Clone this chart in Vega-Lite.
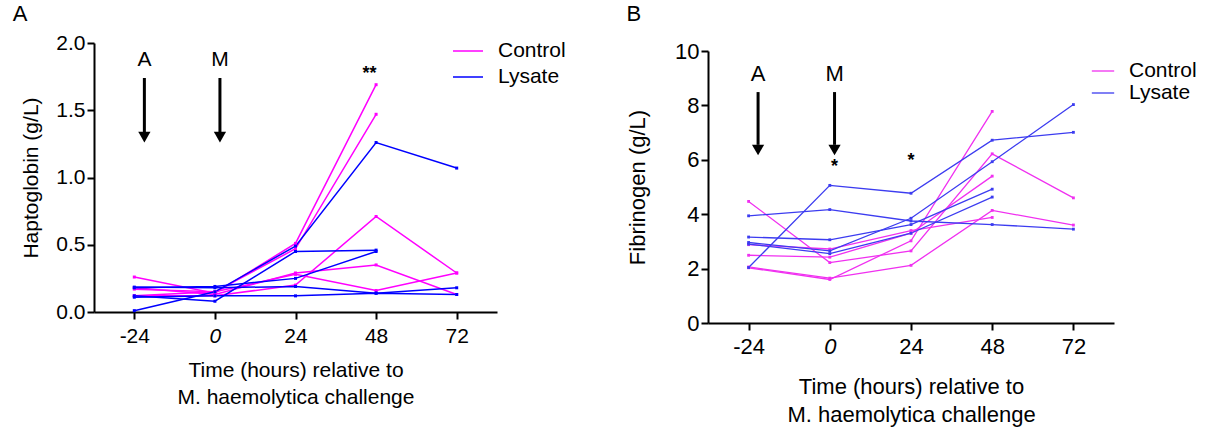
{
  "$schema": "https://vega.github.io/schema/vega-lite/v6.json",
  "padding": {"left": 12, "top": 3, "right": 5, "bottom": 5},
  "background": "white",
  "spacing": 60,
  "resolve": {"scale": {"color": "independent"}},
  "config": {
    "font": "Liberation Sans",
    "view": {"stroke": null},
    "axis": {
      "grid": false, "domainColor": "black", "domainWidth": 2, "tickColor": "black", "tickWidth": 2, "tickSize": 7,
      "labelColor": "black", "titleColor": "black", "labelFontSize": 21, "titleFontSize": 21, "titleFontWeight": "normal",
      "labelFont": "Liberation Sans", "titleFont": "Liberation Sans"
    },
    "legend": {"labelFont": "Liberation Sans", "labelFontSize": 21, "labelColor": "black"},
    "title": {"font": "Liberation Sans", "fontSize": 22, "fontWeight": "normal", "color": "black", "anchor": "start"}
  },
  "datasets": {
    "hapto": [
      {"subject": "C1", "group": "Control", "time": -24, "value": 0.26},
      {"subject": "C1", "group": "Control", "time": 0, "value": 0.14},
      {"subject": "C1", "group": "Control", "time": 24, "value": 0.51},
      {"subject": "C1", "group": "Control", "time": 48, "value": 1.69},
      {"subject": "C2", "group": "Control", "time": -24, "value": 0.17},
      {"subject": "C2", "group": "Control", "time": 0, "value": 0.15},
      {"subject": "C2", "group": "Control", "time": 24, "value": 0.47},
      {"subject": "C2", "group": "Control", "time": 48, "value": 1.47},
      {"subject": "C3", "group": "Control", "time": -24, "value": 0.12},
      {"subject": "C3", "group": "Control", "time": 0, "value": 0.12},
      {"subject": "C3", "group": "Control", "time": 24, "value": 0.2},
      {"subject": "C3", "group": "Control", "time": 48, "value": 0.71},
      {"subject": "C3", "group": "Control", "time": 72, "value": 0.29},
      {"subject": "C4", "group": "Control", "time": -24, "value": 0.18},
      {"subject": "C4", "group": "Control", "time": 0, "value": 0.13},
      {"subject": "C4", "group": "Control", "time": 24, "value": 0.29},
      {"subject": "C4", "group": "Control", "time": 48, "value": 0.35},
      {"subject": "C4", "group": "Control", "time": 72, "value": 0.13},
      {"subject": "C5", "group": "Control", "time": -24, "value": 0.12},
      {"subject": "C5", "group": "Control", "time": 0, "value": 0.15},
      {"subject": "C5", "group": "Control", "time": 24, "value": 0.28},
      {"subject": "C5", "group": "Control", "time": 48, "value": 0.16},
      {"subject": "C5", "group": "Control", "time": 72, "value": 0.29},
      {"subject": "L1", "group": "Lysate", "time": -24, "value": 0.01},
      {"subject": "L1", "group": "Lysate", "time": 0, "value": 0.15},
      {"subject": "L1", "group": "Lysate", "time": 24, "value": 0.49},
      {"subject": "L1", "group": "Lysate", "time": 48, "value": 1.26},
      {"subject": "L1", "group": "Lysate", "time": 72, "value": 1.07},
      {"subject": "L2", "group": "Lysate", "time": -24, "value": 0.12},
      {"subject": "L2", "group": "Lysate", "time": 0, "value": 0.08},
      {"subject": "L2", "group": "Lysate", "time": 24, "value": 0.45},
      {"subject": "L2", "group": "Lysate", "time": 48, "value": 0.46},
      {"subject": "L3", "group": "Lysate", "time": -24, "value": 0.18},
      {"subject": "L3", "group": "Lysate", "time": 0, "value": 0.19},
      {"subject": "L3", "group": "Lysate", "time": 24, "value": 0.25},
      {"subject": "L3", "group": "Lysate", "time": 48, "value": 0.45},
      {"subject": "L4", "group": "Lysate", "time": -24, "value": 0.185},
      {"subject": "L4", "group": "Lysate", "time": 0, "value": 0.18},
      {"subject": "L4", "group": "Lysate", "time": 24, "value": 0.19},
      {"subject": "L4", "group": "Lysate", "time": 48, "value": 0.14},
      {"subject": "L4", "group": "Lysate", "time": 72, "value": 0.18},
      {"subject": "L5", "group": "Lysate", "time": -24, "value": 0.11},
      {"subject": "L5", "group": "Lysate", "time": 0, "value": 0.12},
      {"subject": "L5", "group": "Lysate", "time": 24, "value": 0.12},
      {"subject": "L5", "group": "Lysate", "time": 48, "value": 0.14},
      {"subject": "L5", "group": "Lysate", "time": 72, "value": 0.13}
    ],
    "fibrin": [
      {"subject": "C1", "group": "Control", "time": -24, "value": 4.47},
      {"subject": "C1", "group": "Control", "time": 0, "value": 2.22},
      {"subject": "C1", "group": "Control", "time": 24, "value": 2.65},
      {"subject": "C1", "group": "Control", "time": 48, "value": 6.22},
      {"subject": "C1", "group": "Control", "time": 72, "value": 4.6},
      {"subject": "C2", "group": "Control", "time": -24, "value": 2.88},
      {"subject": "C2", "group": "Control", "time": 0, "value": 2.72},
      {"subject": "C2", "group": "Control", "time": 24, "value": 3.4},
      {"subject": "C2", "group": "Control", "time": 48, "value": 3.88},
      {"subject": "C3", "group": "Control", "time": -24, "value": 2.49},
      {"subject": "C3", "group": "Control", "time": 0, "value": 2.42},
      {"subject": "C3", "group": "Control", "time": 24, "value": 3.3},
      {"subject": "C3", "group": "Control", "time": 48, "value": 5.4},
      {"subject": "C4", "group": "Control", "time": -24, "value": 2.06},
      {"subject": "C4", "group": "Control", "time": 0, "value": 1.65},
      {"subject": "C4", "group": "Control", "time": 24, "value": 2.12},
      {"subject": "C4", "group": "Control", "time": 48, "value": 4.14},
      {"subject": "C4", "group": "Control", "time": 72, "value": 3.6},
      {"subject": "C5", "group": "Control", "time": -24, "value": 2.03},
      {"subject": "C5", "group": "Control", "time": 0, "value": 1.6},
      {"subject": "C5", "group": "Control", "time": 24, "value": 3.02},
      {"subject": "C5", "group": "Control", "time": 48, "value": 7.78},
      {"subject": "L1", "group": "Lysate", "time": -24, "value": 2.04},
      {"subject": "L1", "group": "Lysate", "time": 0, "value": 5.06},
      {"subject": "L1", "group": "Lysate", "time": 24, "value": 4.77},
      {"subject": "L1", "group": "Lysate", "time": 48, "value": 6.72},
      {"subject": "L1", "group": "Lysate", "time": 72, "value": 7.01},
      {"subject": "L2", "group": "Lysate", "time": -24, "value": 3.94},
      {"subject": "L2", "group": "Lysate", "time": 0, "value": 4.17},
      {"subject": "L2", "group": "Lysate", "time": 24, "value": 3.75},
      {"subject": "L2", "group": "Lysate", "time": 48, "value": 3.62},
      {"subject": "L2", "group": "Lysate", "time": 72, "value": 3.45},
      {"subject": "L3", "group": "Lysate", "time": -24, "value": 3.16},
      {"subject": "L3", "group": "Lysate", "time": 0, "value": 3.06},
      {"subject": "L3", "group": "Lysate", "time": 24, "value": 3.62},
      {"subject": "L3", "group": "Lysate", "time": 48, "value": 4.92},
      {"subject": "L4", "group": "Lysate", "time": -24, "value": 2.96},
      {"subject": "L4", "group": "Lysate", "time": 0, "value": 2.65},
      {"subject": "L4", "group": "Lysate", "time": 24, "value": 3.85},
      {"subject": "L4", "group": "Lysate", "time": 48, "value": 5.93},
      {"subject": "L4", "group": "Lysate", "time": 72, "value": 8.03},
      {"subject": "L5", "group": "Lysate", "time": -24, "value": 2.9},
      {"subject": "L5", "group": "Lysate", "time": 0, "value": 2.55},
      {"subject": "L5", "group": "Lysate", "time": 24, "value": 3.3},
      {"subject": "L5", "group": "Lysate", "time": 48, "value": 4.63}
    ],
    "arrowsA": [
      {"time": -21, "value": 1.74, "value2": 1.33, "head": 1.3, "label": "A", "labelY": 1.87},
      {"time": 1.5, "value": 1.74, "value2": 1.33, "head": 1.3, "label": "M", "labelY": 1.87}
    ],
    "starsA": [
      {"time": 46, "value": 1.77, "label": "**"}
    ],
    "arrowsB": [
      {"time": -21.2, "value": 8.49, "value2": 6.55, "head": 6.36, "label": "A", "labelY": 9.17},
      {"time": 1.4, "value": 8.49, "value2": 6.55, "head": 6.36, "label": "M", "labelY": 9.17}
    ],
    "starsB": [
      {"time": 1.4, "value": 5.75, "label": "*"},
      {"time": 24, "value": 5.95, "label": "*"}
    ],
    "spacer": [{"s": 0}]
  },
  "hconcat": [
    {
      "width": 403,
      "height": 269,
      "title": {"text": "A", "offset": 6, "dx": -8},
      "layer": [
        {
          "data": {"name": "hapto"},
          "mark": {"type": "line", "strokeWidth": 1.5},
          "encoding": {
            "x": {"field": "time", "type": "quantitative", "title": ["Time (hours) relative to", "M. haemolytica challenge"],
              "scale": {"domain": [-36, 84], "nice": false, "zero": false},
              "axis": {"values": [-24, 0, 24, 48, 72], "labelPadding": 6, "titlePadding": 13, "titleLineHeight": 27,
                "labelExpr": "datum.value + ''",
                "labelFontStyle": {"condition": {"test": "datum.value === 0", "value": "italic"}, "value": "normal"}}},
            "y": {"field": "value", "type": "quantitative", "title": "Haptoglobin (g/L)",
              "scale": {"domain": [0, 2], "nice": false},
              "axis": {"values": [0, 0.5, 1, 1.5, 2], "format": ".1f", "labelPadding": 2, "titlePadding": 14}},
            "color": {"field": "group", "type": "nominal",
              "scale": {"domain": ["Control", "Lysate"], "range": ["#FF00FF", "#0000FF"]},
              "legend": {"title": null, "orient": "none", "legendX": 358, "legendY": -8, "symbolType": "stroke",
                "symbolSize": 900, "symbolStrokeWidth": 1.5, "labelOffset": 14, "rowPadding": -5}},
            "detail": {"field": "subject"}
          }
        },
        {
          "data": {"name": "hapto"},
          "mark": {"type": "point", "shape": "square", "filled": true, "size": 9, "opacity": 1},
          "encoding": {
            "x": {"field": "time", "type": "quantitative", "title": ["Time (hours) relative to", "M. haemolytica challenge"]},
            "y": {"field": "value", "type": "quantitative", "title": "Haptoglobin (g/L)"},
            "color": {"field": "group", "type": "nominal", "legend": null}
          }
        },
        {
          "data": {"name": "arrowsA"},
          "mark": {"type": "rule", "strokeWidth": 3, "color": "black"},
          "encoding": {
            "x": {"field": "time", "type": "quantitative", "title": ["Time (hours) relative to", "M. haemolytica challenge"]},
            "y": {"field": "value", "type": "quantitative", "title": "Haptoglobin (g/L)"},
            "y2": {"field": "value2"}
          }
        },
        {
          "data": {"name": "arrowsA"},
          "mark": {"type": "point", "shape": "triangle-down", "filled": true, "size": 150, "color": "black", "opacity": 1},
          "encoding": {
            "x": {"field": "time", "type": "quantitative", "title": ["Time (hours) relative to", "M. haemolytica challenge"]},
            "y": {"field": "head", "type": "quantitative", "title": "Haptoglobin (g/L)"}
          }
        },
        {
          "data": {"name": "arrowsA"},
          "mark": {"type": "text", "fontSize": 21, "baseline": "middle", "align": "center", "color": "black"},
          "encoding": {
            "x": {"field": "time", "type": "quantitative", "title": ["Time (hours) relative to", "M. haemolytica challenge"]},
            "y": {"field": "labelY", "type": "quantitative", "title": "Haptoglobin (g/L)"},
            "text": {"field": "label"}
          }
        },
        {
          "data": {"name": "starsA"},
          "mark": {"type": "text", "fontSize": 18, "baseline": "middle", "align": "center", "color": "black", "fontWeight": "bold"},
          "encoding": {
            "x": {"field": "time", "type": "quantitative", "title": ["Time (hours) relative to", "M. haemolytica challenge"]},
            "y": {"field": "value", "type": "quantitative", "title": "Haptoglobin (g/L)"},
            "text": {"field": "label"}
          }
        }
      ]
    },
    {
      "title": {"text": "B", "offset": 14, "dx": 0},
      "spacing": 0,
      "bounds": "flush",
      "vconcat": [
        {
          "width": 406,
          "height": 8,
          "data": {"name": "spacer"},
          "mark": {"type": "rule", "opacity": 0},
          "encoding": {
            "y": {"field": "s", "type": "quantitative", "axis": null, "scale": {"domain": [0, 1]}}
          }
        },
        {
          "width": 406,
          "height": 272,
          "layer": [
            {
              "data": {"name": "fibrin"},
              "mark": {"type": "line", "strokeWidth": 1.3},
              "encoding": {
                "x": {"field": "time", "type": "quantitative", "title": ["Time (hours) relative to", "M. haemolytica challenge"],
                  "scale": {"domain": [-36, 84], "nice": false, "zero": false},
                  "axis": {"values": [-24, 0, 24, 48, 72], "labelPadding": 6, "titlePadding": 19, "titleLineHeight": 28,
                    "labelFontSize": 22, "titleFontSize": 22,
                    "labelExpr": "datum.value + ''",
                    "labelFontStyle": {"condition": {"test": "datum.value === 0", "value": "italic"}, "value": "normal"}}},
                "y": {"field": "value", "type": "quantitative", "title": "Fibrinogen (g/L)",
                  "scale": {"domain": [0, 10], "nice": false},
                  "axis": {"values": [0, 2, 4, 6, 8, 10], "labelPadding": 2, "titlePadding": 25, "labelFontSize": 22, "titleFontSize": 22}},
                "color": {"field": "group", "type": "nominal",
                  "scale": {"domain": ["Control", "Lysate"], "range": ["#F030F0", "#3C3CF0"]},
                  "legend": {"title": null, "orient": "none", "legendX": 383, "legendY": 16, "symbolType": "stroke",
                    "symbolSize": 500, "symbolStrokeWidth": 1.3, "labelOffset": 14, "rowPadding": -6}},
                "detail": {"field": "subject"}
              }
            },
            {
              "data": {"name": "fibrin"},
              "mark": {"type": "point", "shape": "square", "filled": true, "size": 8, "opacity": 1},
              "encoding": {
                "x": {"field": "time", "type": "quantitative", "title": ["Time (hours) relative to", "M. haemolytica challenge"]},
                "y": {"field": "value", "type": "quantitative", "title": "Fibrinogen (g/L)"},
                "color": {"field": "group", "type": "nominal", "legend": null}
              }
            },
            {
              "data": {"name": "arrowsB"},
              "mark": {"type": "rule", "strokeWidth": 3, "color": "black"},
              "encoding": {
                "x": {"field": "time", "type": "quantitative", "title": ["Time (hours) relative to", "M. haemolytica challenge"]},
                "y": {"field": "value", "type": "quantitative", "title": "Fibrinogen (g/L)"},
                "y2": {"field": "value2"}
              }
            },
            {
              "data": {"name": "arrowsB"},
              "mark": {"type": "point", "shape": "triangle-down", "filled": true, "size": 150, "color": "black", "opacity": 1},
              "encoding": {
                "x": {"field": "time", "type": "quantitative", "title": ["Time (hours) relative to", "M. haemolytica challenge"]},
                "y": {"field": "head", "type": "quantitative", "title": "Fibrinogen (g/L)"}
              }
            },
            {
              "data": {"name": "arrowsB"},
              "mark": {"type": "text", "fontSize": 22, "baseline": "middle", "align": "center", "color": "black"},
              "encoding": {
                "x": {"field": "time", "type": "quantitative", "title": ["Time (hours) relative to", "M. haemolytica challenge"]},
                "y": {"field": "labelY", "type": "quantitative", "title": "Fibrinogen (g/L)"},
                "text": {"field": "label"}
              }
            },
            {
              "data": {"name": "starsB"},
              "mark": {"type": "text", "fontSize": 18, "baseline": "middle", "align": "center", "color": "black", "fontWeight": "bold"},
              "encoding": {
                "x": {"field": "time", "type": "quantitative", "title": ["Time (hours) relative to", "M. haemolytica challenge"]},
                "y": {"field": "value", "type": "quantitative", "title": "Fibrinogen (g/L)"},
                "text": {"field": "label"}
              }
            }
          ]
        }
      ]
    }
  ]
}
